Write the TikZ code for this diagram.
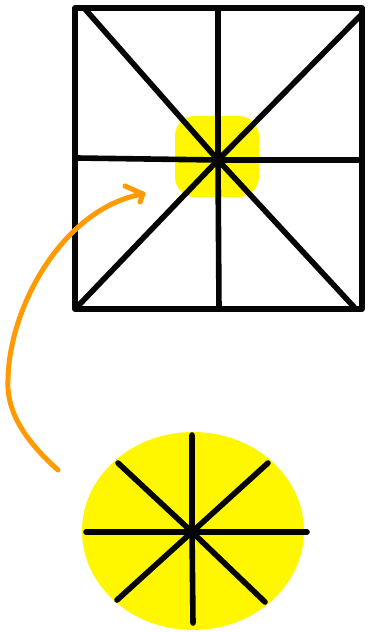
\documentclass[tikz,border=0pt]{standalone}
\usetikzlibrary{calc,shapes.geometric}
\definecolor{skink}{HTML}{050505}
\definecolor{skyellow}{HTML}{FFF700}
\definecolor{skorange}{HTML}{FF9A00}
\tikzset{
  sk line/.style={draw=skink, line width=5.6pt, line cap=round, line join=round},
  sk blob/.style={fill=skyellow, draw=none, rounded corners=20pt, inner sep=0pt},
  sk disc/.style={ellipse, fill=skyellow, draw=none, inner sep=0pt},
  sk arrow/.style={draw=skorange, line width=5pt, line cap=round, line join=round}
}
\begin{document}
\begin{tikzpicture}[x=1pt, y=-1pt]
  \useasboundingbox (0,0) rectangle (367,632);
  % highlighted centre of the grid
  \node[sk blob, minimum width=84pt, minimum height=81pt] (blob) at (217,156.5) {};
  % grid square
  \coordinate (ctr) at (218,160);
  \draw[sk line] (75,8) -- (362,8) -- (362,309) -- (75,309) -- cycle;
  \draw[sk line] (218,8) -- (ctr) -- (219,309);
  \draw[sk line] (77,158) -- (ctr) -- (362,160);
  \draw[sk line] (85,9) -- (ctr) -- (354,307);
  \draw[sk line] (362,14) -- (ctr) -- (78,306);
  % zoomed disc
  \node[sk disc, minimum width=222pt, minimum height=198pt] (disc) at (193,531) {};
  \coordinate (hub) at (192,532);
  \foreach \a/\b in {{(192,435)}/{(193,623)}, {(86,532)}/{(307,532)},
                     {(118,463)}/{(265,602)}, {(268,463)}/{(117,600)}} {
    \draw[sk line] \a -- (hub) -- \b;
  }
  % arrow from disc to grid centre
  \coordinate (tail) at (58,470);
  \coordinate (bend) at (8,380);
  \coordinate (tip) at (143,194);
  \draw[sk arrow] (tail) .. controls (30,445) and (6,415) .. (bend)
    .. controls (9,305) and (65,207) .. (tip);
  \draw[sk arrow] (125,186) -- (tip) -- (140,202);
\end{tikzpicture}
\end{document}
